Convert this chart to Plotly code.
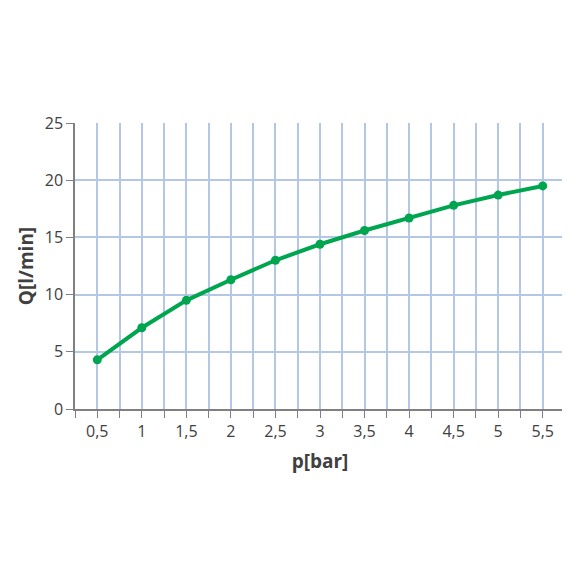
import plotly.graph_objects as go

p_bar = [0.5, 1, 1.5, 2, 2.5, 3, 3.5, 4, 4.5, 5, 5.5]
q_lmin = [4.3, 7.1, 9.5, 11.3, 13.0, 14.4, 15.6, 16.7, 17.8, 18.7, 19.5]
x_labels = ["0,5", "1", "1,5", "2", "2,5", "3", "3,5", "4", "4,5", "5", "5,5"]
y_ticks = [0, 5, 10, 15, 20, 25]

fig = go.Figure(go.Scatter(
    x=p_bar, y=q_lmin, mode="lines+markers",
    line=dict(color="#00a550", width=4),
    marker=dict(color="#00a550", size=9),
))
font = dict(family="Open Sans, DejaVu Sans", size=16, color="#404040")
fig.update_layout(
    width=570, height=570, plot_bgcolor="white", paper_bgcolor="white",
    margin=dict(l=67, r=13, t=115, b=169), showlegend=False, font=font,
    xaxis=dict(range=[0.25, 5.75], tickvals=p_bar, ticktext=x_labels, automargin=False,
               showgrid=True, gridcolor="#b4c7e7", gridwidth=1.5,
               minor=dict(dtick=0.25, tick0=0.25, showgrid=True, gridcolor="#b4c7e7",
                          gridwidth=1.5, ticks="outside", ticklen=7, tickcolor="#808080"),
               ticks="outside", ticklen=7, tickcolor="#808080",
               showline=True, linecolor="#808080", linewidth=1.5, zeroline=False,
               title=dict(text="<b>p[bar]</b>", standoff=14)),
    yaxis=dict(range=[0, 25], tickvals=y_ticks, showgrid=True, gridcolor="#b4c7e7",
               gridwidth=1.5, ticks="outside", ticklen=7, tickcolor="#808080", automargin=False,
               showline=True, linecolor="#808080", linewidth=1.5, zeroline=False,
               title=dict(text="<b>Q[l/min]</b>", standoff=6)),
)
fig.write_html("out.html")
